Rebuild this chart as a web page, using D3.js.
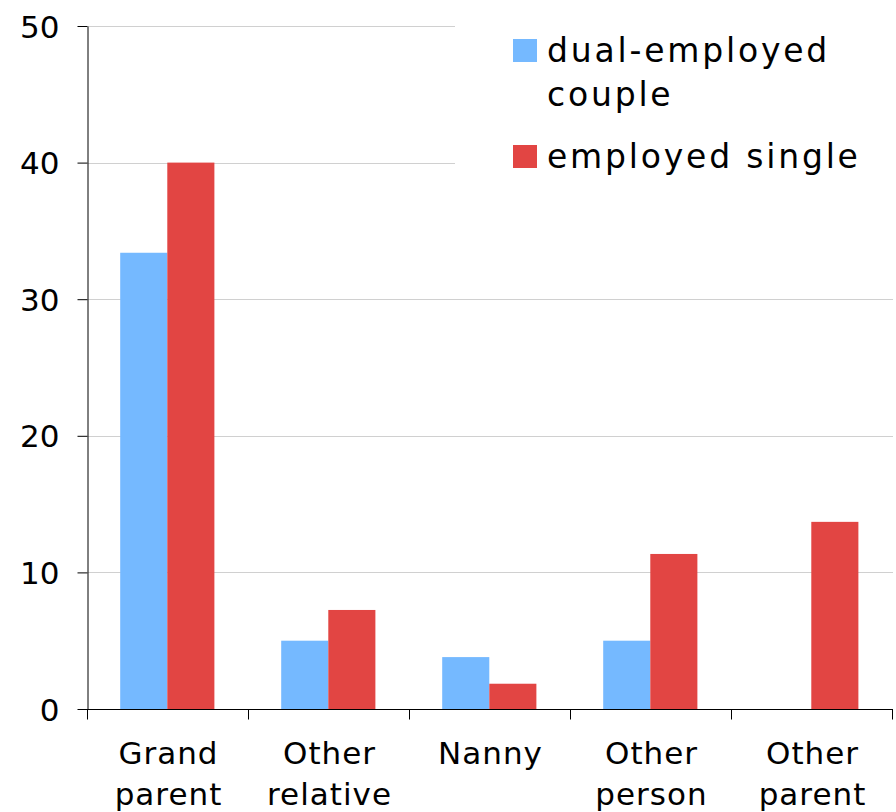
<!DOCTYPE html>
<html>
<head>
<meta charset="utf-8">
<script src="https://cdn.jsdelivr.net/npm/d3@7"></script>
<style>
  body { margin: 0; background: #fff; }
  text { font-family: "DejaVu Sans", Verdana, sans-serif; fill: #000; }
</style>
</head>
<body>
<svg id="chart"></svg>
<script>
// data
var categories = [["Grand", "parent"], ["Other", "relative"], ["Nanny"], ["Other", "person"], ["Other", "parent"]];
var seriesNames = [["dual-employed", "couple"], ["employed single"]];
var dualCouple = [33.4, 5.0, 3.8, 5.0, 0];
var employedSingle = [40.0, 7.25, 1.85, 11.35, 13.7];
var yTicks = [0, 10, 20, 30, 40, 50];
var colors = ["#75b9ff", "#e24543"];

var width = 896, height = 812;
var margin = {top: 26, right: 3, bottom: 103, left: 88};

var svg = d3.select("#chart")
    .attr("width", width)
    .attr("height", height);

var x0 = d3.scaleBand()
    .domain(d3.range(categories.length))
    .range([margin.left, width - margin.right])
    .padding(0);

var x1 = d3.scaleBand()
    .domain([0, 1])
    .range([x0.bandwidth() * 0.2, x0.bandwidth() * 0.785])
    .padding(0);

var y = d3.scaleLinear()
    .domain([0, 50])
    .range([height - margin.bottom, margin.top]);

// gridlines
svg.append("g")
  .selectAll("line")
  .data(yTicks.slice(1))
  .enter()
  .append("line")
    .attr("x1", margin.left)
    .attr("x2", width - margin.right)
    .attr("y1", d => Math.round(y(d)) + 0.5)
    .attr("y2", d => Math.round(y(d)) + 0.5)
    .style("stroke", "#d0d0d0")
    .style("stroke-width", 1);

// bars
var rows = categories.map((c, i) => [dualCouple[i], employedSingle[i]]);
var groups = svg.append("g")
  .selectAll("g")
  .data(rows)
  .enter()
  .append("g")
    .attr("transform", (d, i) => "translate(" + x0(i) + ",0)");

groups.selectAll("rect")
  .data(d => d.map((v, j) => ({v: v, j: j})))
  .enter()
  .append("rect")
    .attr("x", d => x1(d.j))
    .attr("width", x1.bandwidth())
    .attr("y", d => y(d.v))
    .attr("height", d => y(0) - y(d.v))
    .style("fill", d => colors[d.j]);

// y axis
var yAxis = svg.append("g")
    .attr("transform", "translate(" + (margin.left - 0.5) + ",0)")
    .call(d3.axisLeft(y).tickValues(yTicks).tickSize(10).tickSizeOuter(0).tickPadding(18));
yAxis.selectAll("text").style("font-size", "31px").attr("dy", "0.36em");

// x axis
var xAxis = svg.append("g")
    .attr("transform", "translate(0," + (y(0) + 0.5) + ")");
xAxis.append("line")
    .attr("x1", margin.left - 10)
    .attr("x2", width - margin.right)
    .style("stroke", "#000");
xAxis.selectAll(".tick")
  .data(d3.range(categories.length + 1))
  .enter()
  .append("line")
    .attr("x1", d => Math.round(d < categories.length ? x0(d) : x0.range()[1]) - 0.5)
    .attr("x2", d => Math.round(d < categories.length ? x0(d) : x0.range()[1]) - 0.5)
    .attr("y1", 0)
    .attr("y2", 10)
    .style("stroke", "#000");

xAxis.selectAll(".cat")
  .data(categories)
  .enter()
  .append("text")
    .attr("class", "cat")
    .attr("text-anchor", "middle")
    .style("font-size", "31px")
    .style("letter-spacing", "1px")
    .each(function(lines, i) {
      d3.select(this).selectAll("tspan")
        .data(lines)
        .enter()
        .append("tspan")
          .attr("x", x0(i) + x0.bandwidth() / 2)
          .attr("y", (d, k) => 54 + k * 41)
          .text(d => d);
    });

// legend with white box over gridlines
var legend = svg.append("g");
legend.append("rect")
    .attr("x", 455)
    .attr("y", 0)
    .attr("width", width - 455)
    .attr("height", 195)
    .style("fill", "#fff");

var legendTop = [39, 145];
seriesNames.forEach(function(lines, i) {
  legend.append("rect")
      .attr("x", 513)
      .attr("y", legendTop[i])
      .attr("width", 24)
      .attr("height", 23)
      .style("fill", colors[i]);
  var t = legend.append("text").style("font-size", "33px").style("letter-spacing", "2.8px");
  t.selectAll("tspan")
    .data(lines)
    .enter()
    .append("tspan")
      .attr("x", 547)
      .attr("y", (d, k) => legendTop[i] + 23 + k * 44)
      .text(d => d);
});
</script>
</body>
</html>
